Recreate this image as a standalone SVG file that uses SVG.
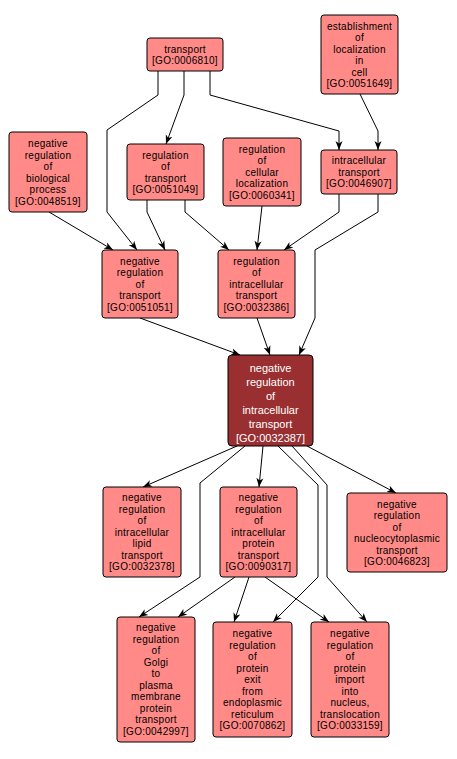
<svg xmlns="http://www.w3.org/2000/svg" width="457" height="759" viewBox="0 0 457 759">
<style>
.n rect{fill:#ff8a87;stroke:#000;stroke-width:1}
.n text{font-family:"Liberation Sans",Arial,sans-serif;font-size:10px;letter-spacing:0.25px;text-anchor:middle;fill:#000}
.m rect{fill:#9a2f31;stroke:#000;stroke-width:1}
.m text{font-family:"Liberation Sans",Arial,sans-serif;font-size:11px;text-anchor:middle;fill:#fff}
.e path{fill:none;stroke:#000;stroke-width:1;marker-end:url(#a)}
</style>
<defs>
<marker id="a" markerWidth="10" markerHeight="8" refX="9" refY="4" orient="auto" markerUnits="userSpaceOnUse">
<path d="M0,0.5 L9,4 L0,7.5 L2.5,4 z" fill="#000"/>
</marker>
</defs>
<rect width="457" height="759" fill="#fff"/>
<g class="e" id="edges">
<path d="M158,71 L158,95 L107,130 L107,212 L137,250"/>
<path d="M184,71 L184,95 L166,144"/>
<path d="M210,71 L210,95 L339,131 L339,150"/>
<path d="M360,94 L378,131 L378,150"/>
<path d="M49,212 L113,250"/>
<path d="M147,200 L147,212 L165,250"/>
<path d="M185,200 L185,212 L229,250"/>
<path d="M262,206 L257,250"/>
<path d="M339,194 L339,212 L284,250"/>
<path d="M378,194 L378,212 L315,250 L315,318 L299,355"/>
<path d="M140,318 L240,355"/>
<path d="M257,318 L270,355"/>
<path d="M237,446 L143,487"/>
<path d="M245,446 L200,483 L200,577 L139,617"/>
<path d="M263,446 L259,487"/>
<path d="M278,446 L318,485 L318,577 L273,622"/>
<path d="M292,446 L327,485 L327,577 L367,622"/>
<path d="M307,446 L396,493"/>
<path d="M235,577 L178,617"/>
<path d="M249,577 L234,622"/>
<path d="M265,577 L329,622"/>
</g>
<g class="n" id="GO0006810"><rect x="147" y="38" width="76" height="33" rx="3"/>
<text x="185" y="52.5">transport</text><text x="185" y="64">[GO:0006810]</text></g>
<g class="n" id="GO0051649"><rect x="321" y="15" width="77" height="79" rx="3"/>
<text x="359.5" y="29.5">establishment</text><text x="359.5" y="41">of</text><text x="359.5" y="52.5">localization</text><text x="359.5" y="64">in</text><text x="359.5" y="75.5">cell</text><text x="359.5" y="87">[GO:0051649]</text></g>
<g class="n" id="GO0048519"><rect x="9" y="132" width="78" height="80" rx="3"/>
<text x="48" y="147">negative</text><text x="48" y="158.5">regulation</text><text x="48" y="170">of</text><text x="48" y="181.5">biological</text><text x="48" y="193">process</text><text x="48" y="204.5">[GO:0048519]</text></g>
<g class="n" id="GO0051049"><rect x="127" y="144" width="77" height="56" rx="3"/>
<text x="165.5" y="158.5">regulation</text><text x="165.5" y="170">of</text><text x="165.5" y="181.5">transport</text><text x="165.5" y="193">[GO:0051049]</text></g>
<g class="n" id="GO0060341"><rect x="223" y="138" width="78" height="68" rx="3"/>
<text x="262" y="152.5">regulation</text><text x="262" y="164">of</text><text x="262" y="175.5">cellular</text><text x="262" y="187">localization</text><text x="262" y="198.5">[GO:0060341]</text></g>
<g class="n" id="GO0046907"><rect x="321" y="150" width="76" height="44" rx="3"/>
<text x="359" y="164">intracellular</text><text x="359" y="175.5">transport</text><text x="359" y="187">[GO:0046907]</text></g>
<g class="n" id="GO0051051"><rect x="102" y="250" width="76" height="68" rx="3"/>
<text x="140" y="264.5">negative</text><text x="140" y="276">regulation</text><text x="140" y="287.5">of</text><text x="140" y="299">transport</text><text x="140" y="310.5">[GO:0051051]</text></g>
<g class="n" id="GO0032386"><rect x="218" y="250" width="77" height="68" rx="3"/>
<text x="256.5" y="264.5">regulation</text><text x="256.5" y="276">of</text><text x="256.5" y="287.5">intracellular</text><text x="256.5" y="299">transport</text><text x="256.5" y="310.5">[GO:0032386]</text></g>
<g class="m" id="GO0032387"><rect x="228" y="355" width="85" height="91" rx="4"/>
<text x="270.5" y="372">negative</text><text x="270.5" y="386">regulation</text><text x="270.5" y="400">of</text><text x="270.5" y="414">intracellular</text><text x="270.5" y="428">transport</text><text x="270.5" y="442">[GO:0032387]</text></g>
<g class="n" id="GO0032378"><rect x="103" y="487" width="78" height="90" rx="3"/>
<text x="142" y="501">negative</text><text x="142" y="512.5">regulation</text><text x="142" y="524">of</text><text x="142" y="535.5">intracellular</text><text x="142" y="547">lipid</text><text x="142" y="558.5">transport</text><text x="142" y="570">[GO:0032378]</text></g>
<g class="n" id="GO0090317"><rect x="220" y="487" width="77" height="90" rx="3"/>
<text x="258.5" y="501">negative</text><text x="258.5" y="512.5">regulation</text><text x="258.5" y="524">of</text><text x="258.5" y="535.5">intracellular</text><text x="258.5" y="547">protein</text><text x="258.5" y="558.5">transport</text><text x="258.5" y="570">[GO:0090317]</text></g>
<g class="n" id="GO0046823"><rect x="347" y="493" width="100" height="79" rx="3"/>
<text x="397" y="507.5">negative</text><text x="397" y="519">regulation</text><text x="397" y="530.5">of</text><text x="397" y="542">nucleocytoplasmic</text><text x="397" y="553.5">transport</text><text x="397" y="565">[GO:0046823]</text></g>
<g class="n" id="GO0042997"><rect x="117" y="617" width="78" height="125" rx="3"/>
<text x="156" y="631">negative</text><text x="156" y="642.5">regulation</text><text x="156" y="654">of</text><text x="156" y="665.5">Golgi</text><text x="156" y="677">to</text><text x="156" y="688.5">plasma</text><text x="156" y="700">membrane</text><text x="156" y="711.5">protein</text><text x="156" y="723">transport</text><text x="156" y="734.5">[GO:0042997]</text></g>
<g class="n" id="GO0070862"><rect x="213" y="622" width="79" height="115" rx="3"/>
<text x="252.5" y="637">negative</text><text x="252.5" y="648.5">regulation</text><text x="252.5" y="660">of</text><text x="252.5" y="671.5">protein</text><text x="252.5" y="683">exit</text><text x="252.5" y="694.5">from</text><text x="252.5" y="706">endoplasmic</text><text x="252.5" y="717.5">reticulum</text><text x="252.5" y="729">[GO:0070862]</text></g>
<g class="n" id="GO0033159"><rect x="311" y="622" width="78" height="115" rx="3"/>
<text x="350" y="637">negative</text><text x="350" y="648.5">regulation</text><text x="350" y="660">of</text><text x="350" y="671.5">protein</text><text x="350" y="683">import</text><text x="350" y="694.5">into</text><text x="350" y="706">nucleus,</text><text x="350" y="717.5">translocation</text><text x="350" y="729">[GO:0033159]</text></g>
</svg>
